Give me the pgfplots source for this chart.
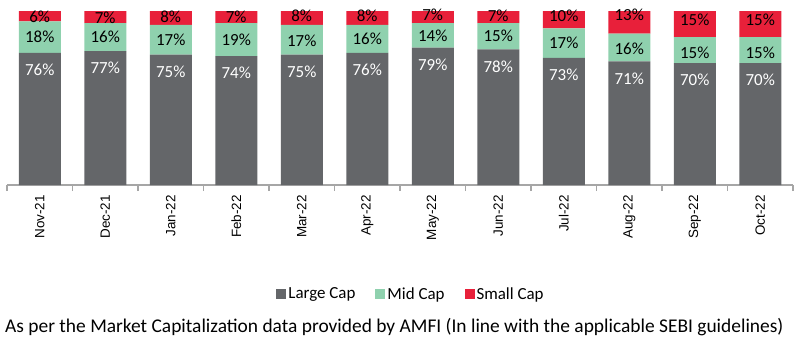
\documentclass[border=0pt]{standalone}
\usepackage{pgfplots}
\pgfplotsset{compat=1.18}
\usepackage{pgfplotstable}
\usepackage{fontspec}
\setmainfont{Carlito}
\newfontfamily\tickfont{Liberation Sans}
\definecolor{lc}{HTML}{646669}
\definecolor{mc}{HTML}{8FD1AE}
\definecolor{sc}{HTML}{E8203A}
\definecolor{axc}{HTML}{A6A6A6}

\pgfplotstableread{
x L M S ly my sy
0 76 18 6 66.2 85.0 96.6
1 77 16 7 67.2 85.0 96.0
2 75 17 8 65.2 83.5 96.4
3 74 19 7 64.2 83.5 96.4
4 75 17 8 65.2 83.0 97.4
5 76 16 8 66.2 84.0 97.4
6 79 14 7 69.2 86.0 97.7
7 78 15 7 68.2 85.5 97.5
8 73 17 10 63.2 81.5 97.3
9 71 16 13 61.2 78.0 98.0
10 70 15 15 60.2 76.0 94.8
11 70 15 15 60.2 76.0 94.8
}\data

\pgfplotsset{
  base/.style={
    scale only axis, width=786bp, height=174bp,
    at={(0,0)}, anchor=south west,
    xmin=-0.5, xmax=11.5, ymin=0, ymax=100,
  }
}

\begin{document}
\begin{tikzpicture}
\path[use as bounding box] (-7bp,-156bp) rectangle (797bp,185bp);
\begin{axis}[base,
  ybar stacked, bar width=42bp,
  axis y line=none,
  axis x line=bottom,
  x axis line style={-, draw=axc, line width=1.6bp},
  xtick={0,...,11},
  xticklabels={Nov-21,Dec-21,Jan-22,Feb-22,Mar-22,Apr-22,May-22,Jun-22,Jul-22,Aug-22,Sep-22,Oct-22},
  major x tick style={draw=none},
  major tick length=0pt,
  minor xtick={-0.5,0.5,...,11.5},
  minor tick length=6bp,
  minor x tick style={draw=axc, line width=1.6bp},
  tick align=outside,
  xticklabel style={rotate=90, anchor=east, font=\tickfont\fontsize{13.5}{13.5}\selectfont, text=black, inner sep=0pt, xshift=-10bp},
  legend columns=3,
  legend style={at={(0.514,-0.626)}, anchor=center, draw=none, fill=none,
    font=\fontsize{17}{17}\selectfont,
    /tikz/every even column/.append style={column sep=18bp}},
  legend image code/.code={\fill[#1] (0bp,-5bp) rectangle (10bp,5bp);},
]
\addplot[fill=lc, draw=none] table[x=x,y=L]{\data};
\addlegendentry{Large Cap}
\addplot[fill=mc, draw=none] table[x=x,y=M]{\data};
\addlegendentry{Mid Cap}
\addplot[fill=sc, draw=none] table[x=x,y=S]{\data};
\addlegendentry{Small Cap}
\end{axis}
\begin{axis}[base, hide axis,
  nodes near coords={\pgfplotspointmeta\%},
  point meta=explicit symbolic,
  nodes near coords align=center,
  every node near coord/.append style={font=\fontsize{17}{17}\selectfont, inner sep=0pt, anchor=center},
]
\addplot[draw=none, mark=none, nodes near coords style={text=white}] table[x=x,y=ly,meta=L]{\data};
\addplot[draw=none, mark=none, nodes near coords style={text=black}] table[x=x,y=my,meta=M]{\data};
\addplot[draw=none, mark=none, nodes near coords style={text=black}] table[x=x,y=sy,meta=S]{\data};
\end{axis}
\node[anchor=west, inner sep=0pt, font=\fontsize{19.5}{19.5}\selectfont] at (-2bp,-142bp) {As per the Market Capitalization data provided by AMFI (In line with the applicable SEBI guidelines)};
\end{tikzpicture}
\end{document}
